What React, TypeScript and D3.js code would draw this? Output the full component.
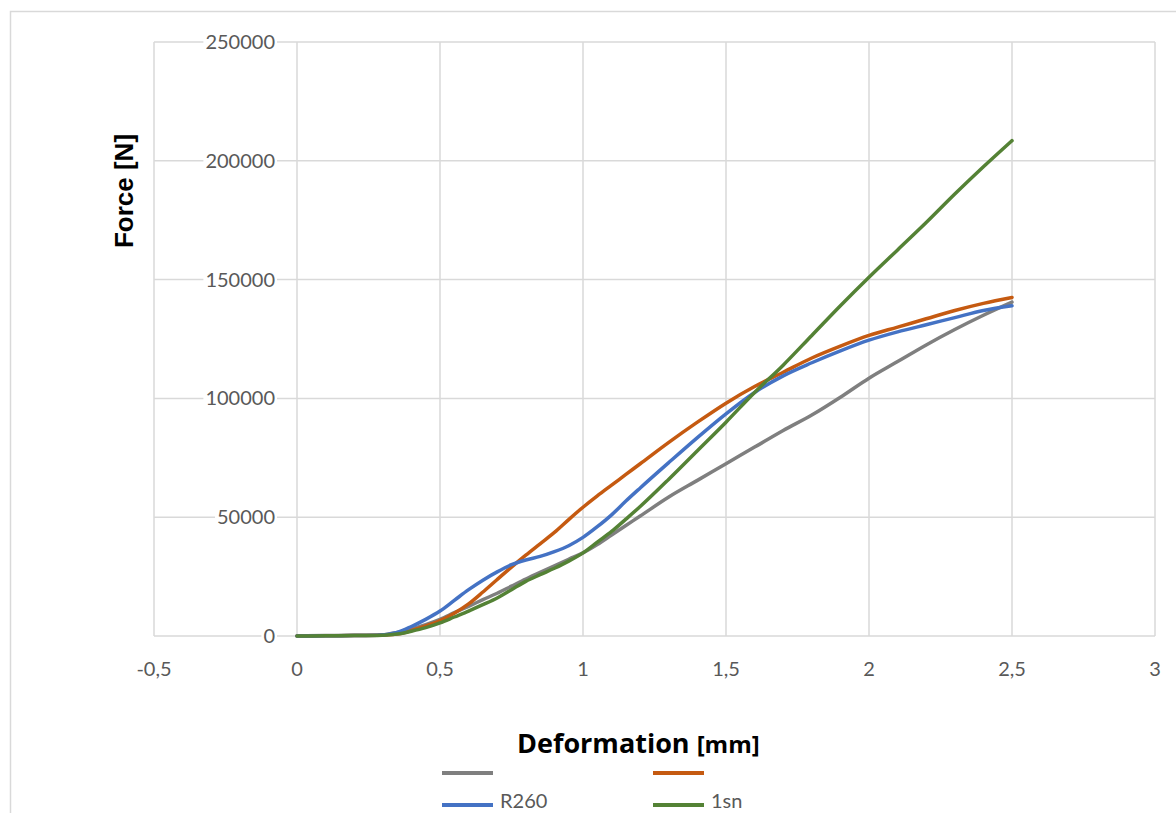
import React from "react";
import * as d3 from "d3";

const deformation = [0, 0.1, 0.2, 0.28, 0.35, 0.4, 0.45, 0.5, 0.55, 0.6, 0.65, 0.7, 0.75, 0.8, 0.85, 0.9, 0.95, 1.0, 1.05, 1.1, 1.15, 1.2, 1.3, 1.4, 1.5, 1.6, 1.7, 1.8, 1.9, 2.0, 2.1, 2.2, 2.3, 2.4, 2.5];

const grayValues = [0, 200, 300, 300, 1500, 3000, 4800, 7000, 9800, 12500, 15300, 18000, 21000, 24000, 26800, 29500, 32300, 35000, 38500, 42500, 46500, 50500, 58500, 65500, 72500, 79500, 86500, 93000, 100500, 108500, 115500, 122500, 129000, 135000, 140500];
const orangeValues = [0, 100, 200, 300, 800, 2300, 4200, 6500, 9600, 13500, 18500, 23800, 29000, 34000, 38800, 43600, 49000, 54200, 59000, 63500, 68000, 72500, 81500, 90000, 98000, 105000, 111000, 117000, 122000, 126500, 130000, 133500, 137000, 140000, 142500];
const blueValues = [0, 100, 200, 300, 1500, 4000, 7000, 10500, 15000, 19500, 23500, 27000, 30000, 32000, 33500, 35500, 38000, 41500, 46000, 51000, 56800, 62300, 73000, 83500, 93500, 102500, 109500, 115000, 120000, 124500, 128000, 131000, 134000, 137000, 139000];
const greenValues = [0, 100, 200, 200, 800, 2000, 3500, 5500, 8000, 10500, 13200, 16000, 19500, 23000, 25800, 28500, 31500, 35000, 39500, 44000, 49200, 54500, 66000, 78000, 90000, 102500, 114000, 126500, 139000, 151000, 162500, 174000, 186000, 197500, 208500];

const seriesNames = ["", "", "R260", "1sn"];
const seriesColors = ["#7f7f7f", "#c55a11", "#4472c4", "#548235"];
const seriesValues = [grayValues, orangeValues, blueValues, greenValues];

const xTicks = [-0.5, 0, 0.5, 1, 1.5, 2, 2.5, 3];
const yTicks = [0, 50000, 100000, 150000, 200000, 250000];

const fmtX = (v: number) => String(v).replace(".", ",");

export default function App() {
  const x = d3.scaleLinear().domain([-0.5, 3]).range([154, 1155]);
  const y = d3.scaleLinear().domain([0, 250000]).range([636, 42]);
  const line = d3
    .line<[number, number]>()
    .x((d) => x(d[0]))
    .y((d) => y(d[1]))
    .curve(d3.curveMonotoneX);

  const gridColor = "#d9d9d9";
  const textColor = "#595959";
  const font = "Lato, 'Open Sans', sans-serif";

  const legendPos = [
    { lx: 442, ly: 773 },
    { lx: 653, ly: 773 },
    { lx: 442, ly: 805 },
    { lx: 653, ly: 805 },
  ];

  return (
    <svg
      width={1176}
      height={813}
      style={{ position: "absolute", left: 0, top: 0, background: "#fff" }}
    >
      <rect x={10.5} y={11.5} width={1200} height={900} fill="#fff" stroke={gridColor} strokeWidth={1.5} />
      {xTicks.map((t) => (
        <line key={"vx" + t} x1={x(t)} x2={x(t)} y1={y(250000)} y2={y(0)} stroke={gridColor} strokeWidth={1.5} />
      ))}
      {yTicks.map((t) => (
        <line key={"hy" + t} x1={x(-0.5)} x2={x(3)} y1={y(t)} y2={y(t)} stroke={gridColor} strokeWidth={1.5} />
      ))}
      {yTicks.map((t) => (
        <g key={"yl" + t}>
          <rect x={x(0) - 22 - String(t).length * 11.6 - 2} y={y(t) - 9} width={String(t).length * 11.6 + 4} height={18} fill="#fff" />
          <text x={x(0) - 22} y={y(t) + 7} textAnchor="end" fontFamily={font} fontSize={20} fill={textColor}>
            {t}
          </text>
        </g>
      ))}
      {xTicks.map((t) => (
        <text key={"xl" + t} x={x(t)} y={676} textAnchor="middle" fontFamily={font} fontSize={20} fill={textColor}>
          {fmtX(t)}
        </text>
      ))}
      {seriesValues.map((vals, i) => (
        <path
          key={"s" + i}
          d={line(deformation.map((d, j) => [d, vals[j]] as [number, number])) || ""}
          fill="none"
          stroke={seriesColors[i]}
          strokeWidth={3.5}
          strokeLinecap="round"
          strokeLinejoin="round"
        />
      ))}
      <text
        transform={`translate(133,191) rotate(-90)`}
        textAnchor="middle"
        fontFamily="'Liberation Sans', Arial, sans-serif"
        fontWeight="bold"
        fontSize={26}
        fill="#000"
      >
        Force [N]
      </text>
      <text x={517} y={753} fontFamily="'Open Sans', sans-serif" fontWeight="bold" fontSize={27} fill="#000">
        Deformation <tspan fontSize={24}>[mm]</tspan>
      </text>
      {seriesNames.map((n, i) => (
        <g key={"lg" + i}>
          <line x1={legendPos[i].lx} x2={legendPos[i].lx + 51} y1={legendPos[i].ly} y2={legendPos[i].ly} stroke={seriesColors[i]} strokeWidth={4} />
          <text x={legendPos[i].lx + 58} y={legendPos[i].ly + 3} fontFamily={font} fontSize={20} fill={textColor}>
            {n}
          </text>
        </g>
      ))}
    </svg>
  );
}
